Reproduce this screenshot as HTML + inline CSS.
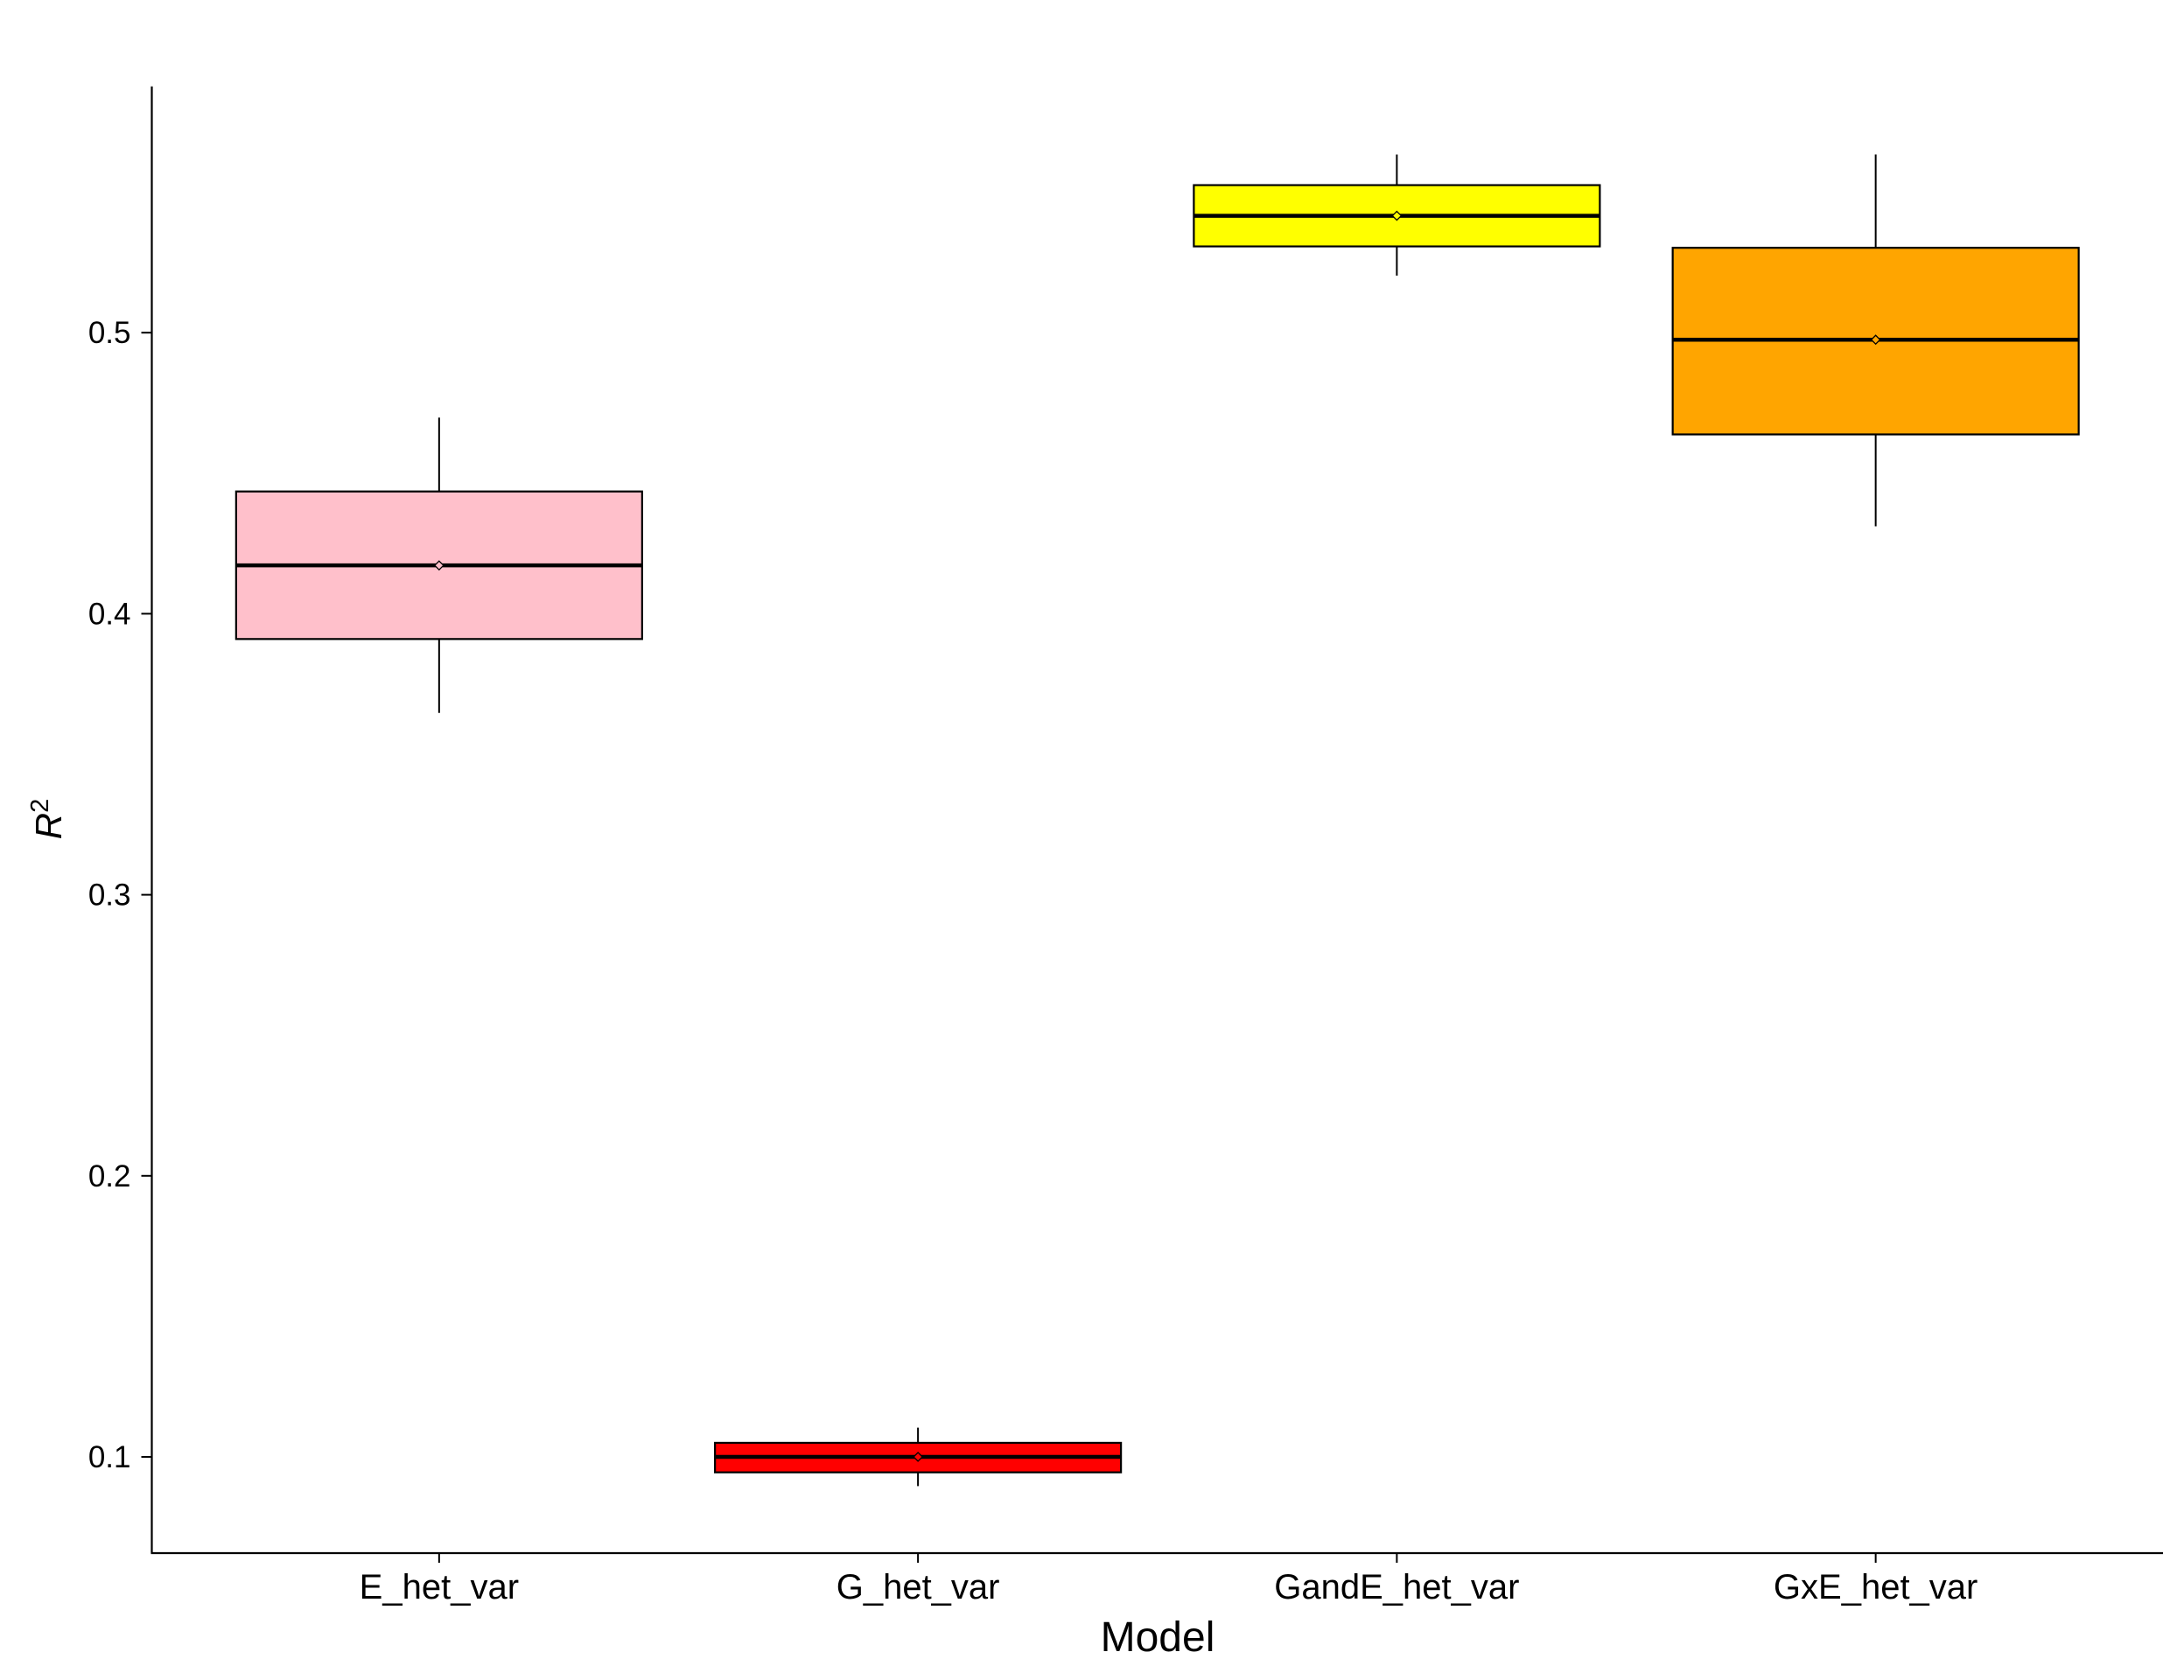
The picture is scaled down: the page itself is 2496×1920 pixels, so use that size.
<!DOCTYPE html>
<html><head><meta charset="utf-8"><style>
html,body{margin:0;padding:0;background:#fff;}
svg{display:block;font-family:"Liberation Sans",Arial,sans-serif;}
</style></head><body>
<svg id="chart" width="2496" height="1920" viewBox="0 0 2496 1920" xmlns="http://www.w3.org/2000/svg">
<g id="axes"></g><g id="boxes"></g>
<text x="1323" y="1887" font-size="48" text-anchor="middle">Model</text>
<text transform="translate(70,936) rotate(-90)" font-size="42" font-style="italic" text-anchor="middle">R<tspan dy="-15" font-size="29" font-style="normal">2</tspan></text>
</svg>
<script>
const categories = ["E_het_var","G_het_var","GandE_het_var","GxE_het_var"];
const lowValues = [0.3647,0.0896,0.5203,0.4311];
const q1Values = [0.391,0.0945,0.5307,0.4638];
const medianValues = [0.4172,0.1,0.5416,0.4975];
const meanValues = [0.4172,0.1,0.5416,0.4975];
const q3Values = [0.4435,0.105,0.5525,0.5302];
const highValues = [0.4698,0.1104,0.5634,0.5634];
const fills = ["#FFC0CB","#FF0000","#FFFF00","#FFA500"];
const yTicks = [0.1,0.2,0.3,0.4,0.5];
const yTickLabels = ["0.1","0.2","0.3","0.4","0.5"];

const NS="http://www.w3.org/2000/svg";
const X0=173.5, X1=2472, YTOP=98.7, YBOT=1775;
function y(v){return 1665-(v-0.1)*3212;}
const n=categories.length;
const step=(X1-X0)/(n-1+1.2);
function x(i){return X0+step*(0.6+i);}
const halfW=232;
function mk(tag,attrs,parent){const e=document.createElementNS(NS,tag);for(const k in attrs)e.setAttribute(k,attrs[k]);parent.appendChild(e);return e;}
const axes=document.getElementById('axes'), boxes=document.getElementById('boxes');

const ya=mk('line',{x1:X0,y1:YTOP,x2:X0,y2:YBOT,stroke:'#000','stroke-width':2.2},axes);


const xa=mk('line',{x1:X0-1,y1:YBOT,x2:X1,y2:YBOT,stroke:'#000','stroke-width':2.2},axes);



yTicks.forEach((t,i)=>{
  const tk=mk('line',{x1:X0-12,y1:y(t),x2:X0,y2:y(t),stroke:'#000','stroke-width':2},axes);
  
  
  const tl=mk('text',{x:X0-24,y:y(t)+12,'font-size':35,'text-anchor':'end'},axes);
  tl.textContent=yTickLabels[i];
  
  
});
categories.forEach((c,i)=>{
  const cx=x(i);
  const tk=mk('line',{x1:cx,y1:YBOT,x2:cx,y2:YBOT+11,stroke:'#000','stroke-width':2},axes);
  
  
  const tl=mk('text',{x:cx,y:1827,'font-size':40,'text-anchor':'middle'},axes);
  tl.textContent=c;
  
  

  const g=mk('g',{},boxes);
  
  
  mk('line',{x1:cx,y1:y(highValues[i]),x2:cx,y2:y(q3Values[i]),stroke:'#000','stroke-width':2},g);
  mk('line',{x1:cx,y1:y(q1Values[i]),x2:cx,y2:y(lowValues[i]),stroke:'#000','stroke-width':2},g);
  mk('rect',{x:cx-halfW,y:y(q3Values[i]),width:2*halfW,height:y(q1Values[i])-y(q3Values[i]),fill:fills[i],stroke:'#000','stroke-width':2.2},g);
  mk('line',{x1:cx-halfW,y1:y(medianValues[i]),x2:cx+halfW,y2:y(medianValues[i]),stroke:'#000','stroke-width':4.5},g);
  const my=y(meanValues[i]);
  mk('polygon',{points:`${cx},${my-5} ${cx+5},${my} ${cx},${my+5} ${cx-5},${my}`,fill:fills[i],stroke:'#000','stroke-width':1.3},g);
});
</script>
</body></html>
